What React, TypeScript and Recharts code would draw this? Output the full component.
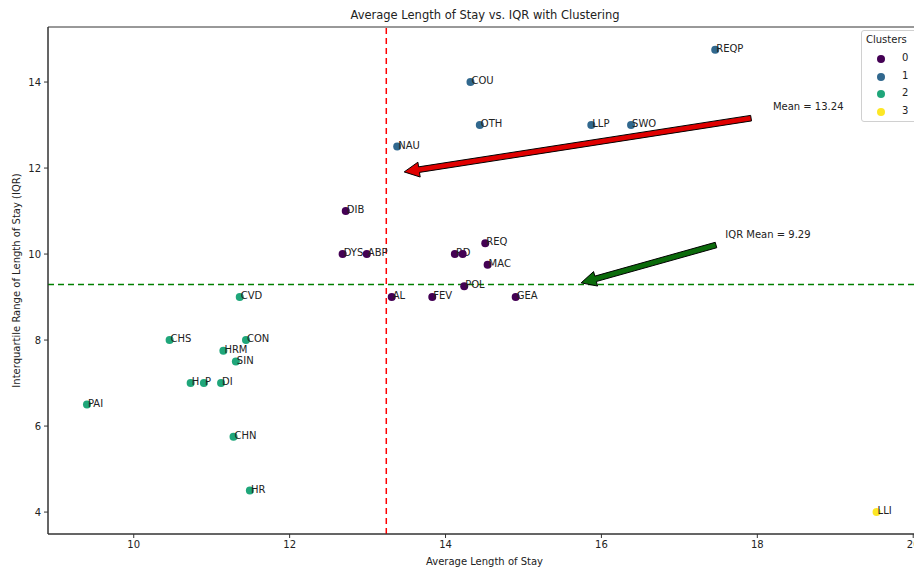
import React from 'react';
import {
  ScatterChart, Scatter, XAxis, YAxis, ReferenceLine, ReferenceDot, ReferenceArea,
} from 'recharts';

const names = ['REQP','COU','OTH','LLP','SWO','NAU','DIB','DYS','ABP','RD','','REQ','MAC','POL','AL','FEV','GEA','CVD','CHS','CON','HRM','SIN','H','P','DI','PAI','CHN','HR','LLI'];
const avgStay = [17.46,14.32,14.44,15.87,16.38,13.38,12.72,12.68,12.99,14.12,14.22,14.51,14.54,14.24,13.31,13.83,14.90,11.36,10.46,11.44,11.15,11.31,10.73,10.90,11.12,9.40,11.28,11.49,19.53];
const iqr = [14.75,14.0,13.0,13.0,13.0,12.5,11.0,10.0,10.0,10.0,10.0,10.25,9.75,9.25,9.0,9.0,9.0,9.0,8.0,8.0,7.75,7.5,7.0,7.0,7.0,6.5,5.75,4.5,4.0];
const clusters = [1,1,1,1,1,1,0,0,0,0,0,0,0,0,0,0,0,2,2,2,2,2,2,2,2,2,2,2,3];
const clusterIds = [0,1,2,3];
const clusterColors = ['#440154','#31688e','#1fa67a','#fde725'];
const xTicks = [10,12,14,16,18,20];
const yTicks = [4,6,8,10,12,14];
const meanStay = 13.24;
const meanIqr = 9.29;
const redArrow = [{ x: 17.92, y: 13.16 }, { x: 13.47, y: 11.91 }];
const greenArrow = [{ x: 17.47, y: 10.21 }, { x: 15.74, y: 9.33 }];
const meanLabelPos = { x: 18.2, y: 13.35 };
const iqrLabelPos = { x: 17.59, y: 10.37 };
const xDomain = [8.9, 20.1];
const yDomain = [3.49, 15.28];

const data = names.map((n, i) => ({ name: n, x: avgStay[i], y: iqr[i], cluster: clusters[i] }));

const FONT = 'DejaVu Sans, sans-serif';

const PointShape = (props: any) => {
  const { cx, cy, payload } = props;
  return (
    <g>
      <circle cx={cx} cy={cy} r={4} fill={clusterColors[payload.cluster]} />
      {payload.name ? (
        <text x={cx + 1} y={cy + 2} fontSize={10} fontFamily={FONT} fill="#222">{payload.name}</text>
      ) : null}
    </g>
  );
};

const makeArrow = (fill: string) => (p: any) => {
  const { x1, y1, x2, y2 } = p;
  const dx = x2 - x1, dy = y2 - y1;
  const len = Math.sqrt(dx * dx + dy * dy);
  const ux = dx / len, uy = dy / len;
  const nx = -uy, ny = ux;
  const hw = 2.8, hh = 7.5, hl = 15;
  const bx = x2 - ux * hl, by = y2 - uy * hl;
  const pts = [
    [x1 + nx * hw, y1 + ny * hw],
    [bx + nx * hw, by + ny * hw],
    [bx + nx * hh, by + ny * hh],
    [x2, y2],
    [bx - nx * hh, by - ny * hh],
    [bx - nx * hw, by - ny * hw],
    [x1 - nx * hw, y1 - ny * hw],
  ].map((q) => q.join(',')).join(' ');
  return <polygon points={pts} fill={fill} stroke="#000" strokeWidth={1} />;
};

const makeText = (txt: string) => (p: any) => (
  <text x={p.cx} y={p.cy} fontSize={10} fontFamily={FONT} fill="#222">{txt}</text>
);

const LegendBox = () => (
  <div style={{
    position: 'absolute', left: 861, top: 30,
    width: 70, height: 92, background: '#fff', border: '1px solid #d0d0d0', borderRadius: 3,
    fontFamily: FONT, fontSize: 10, color: '#222', boxSizing: 'border-box',
  }}>
    <div style={{ position: 'absolute', left: 4, top: 3 }}>Clusters</div>
    {clusterIds.map((c, i) => (
      <div key={c} style={{ position: 'absolute', top: 21 + i * 17.7, left: 0, width: 70, height: 14 }}>
        <span style={{ position: 'absolute', left: 15, top: 3, width: 8, height: 8, borderRadius: 4, background: clusterColors[c] }} />
        <span style={{ position: 'absolute', left: 40, top: 0 }}>{c}</span>
      </div>
    ))}
  </div>
);

export default function App() {
  return (
    <div style={{ position: 'absolute', left: 0, top: 0, width: 914, height: 568, overflow: 'hidden', background: '#fff' }}>
      <div style={{ position: 'absolute', left: 0, top: 0, width: 930 }}>
        <ScatterChart width={930} height={568} margin={{ top: 27, right: 9, bottom: 0, left: 0 }}>
          <XAxis
            type="number" dataKey="x" domain={xDomain} ticks={xTicks} allowDataOverflow
            height={34} tickSize={4} tickMargin={3} stroke="#333"
            tick={{ fontSize: 10, fontFamily: FONT, fill: '#222' }}
            label={{ value: 'Average Length of Stay', position: 'insideBottom', offset: 0, fontSize: 10, fontFamily: FONT, fill: '#222', dy: -3 }}
          />
          <YAxis
            type="number" dataKey="y" domain={yDomain} ticks={yTicks} allowDataOverflow
            width={48} tickSize={4} tickMargin={3} stroke="#333"
            tick={{ fontSize: 10, fontFamily: FONT, fill: '#222' }}
            label={{ value: 'Interquartile Range of Length of Stay (IQR)', angle: -90, position: 'insideLeft', offset: 16, fontSize: 10, fontFamily: FONT, fill: '#222', style: { textAnchor: 'middle' } }}
          />
          <ReferenceArea x1={xDomain[0]} x2={xDomain[1]} y1={yDomain[0]} y2={yDomain[1]} fill="none" stroke="#333" strokeWidth={1} ifOverflow="extendDomain" />
          <ReferenceLine x={meanStay} stroke="#ff0000" strokeDasharray="6 4" strokeWidth={1.5} />
          <ReferenceLine y={meanIqr} stroke="#008000" strokeDasharray="6 4" strokeWidth={1.5} />
          <Scatter data={data} isAnimationActive={false} shape={PointShape} />
          <ReferenceLine segment={redArrow} shape={makeArrow('#e00000')} ifOverflow="visible" />
          <ReferenceLine segment={greenArrow} shape={makeArrow('#0b6b0b')} ifOverflow="visible" />
          <ReferenceDot x={meanLabelPos.x} y={meanLabelPos.y} shape={makeText('Mean = 13.24')} ifOverflow="visible" />
          <ReferenceDot x={iqrLabelPos.x} y={iqrLabelPos.y} shape={makeText('IQR Mean = 9.29')} ifOverflow="visible" />
        </ScatterChart>
      </div>
      <div style={{ position: 'absolute', left: 0, top: 8, width: 914, textAlign: 'center', fontFamily: FONT, fontSize: 11.5, color: '#222', paddingLeft: 56, boxSizing: 'border-box' }}>
        Average Length of Stay vs. IQR with Clustering
      </div>
      <LegendBox />
    </div>
  );
}
